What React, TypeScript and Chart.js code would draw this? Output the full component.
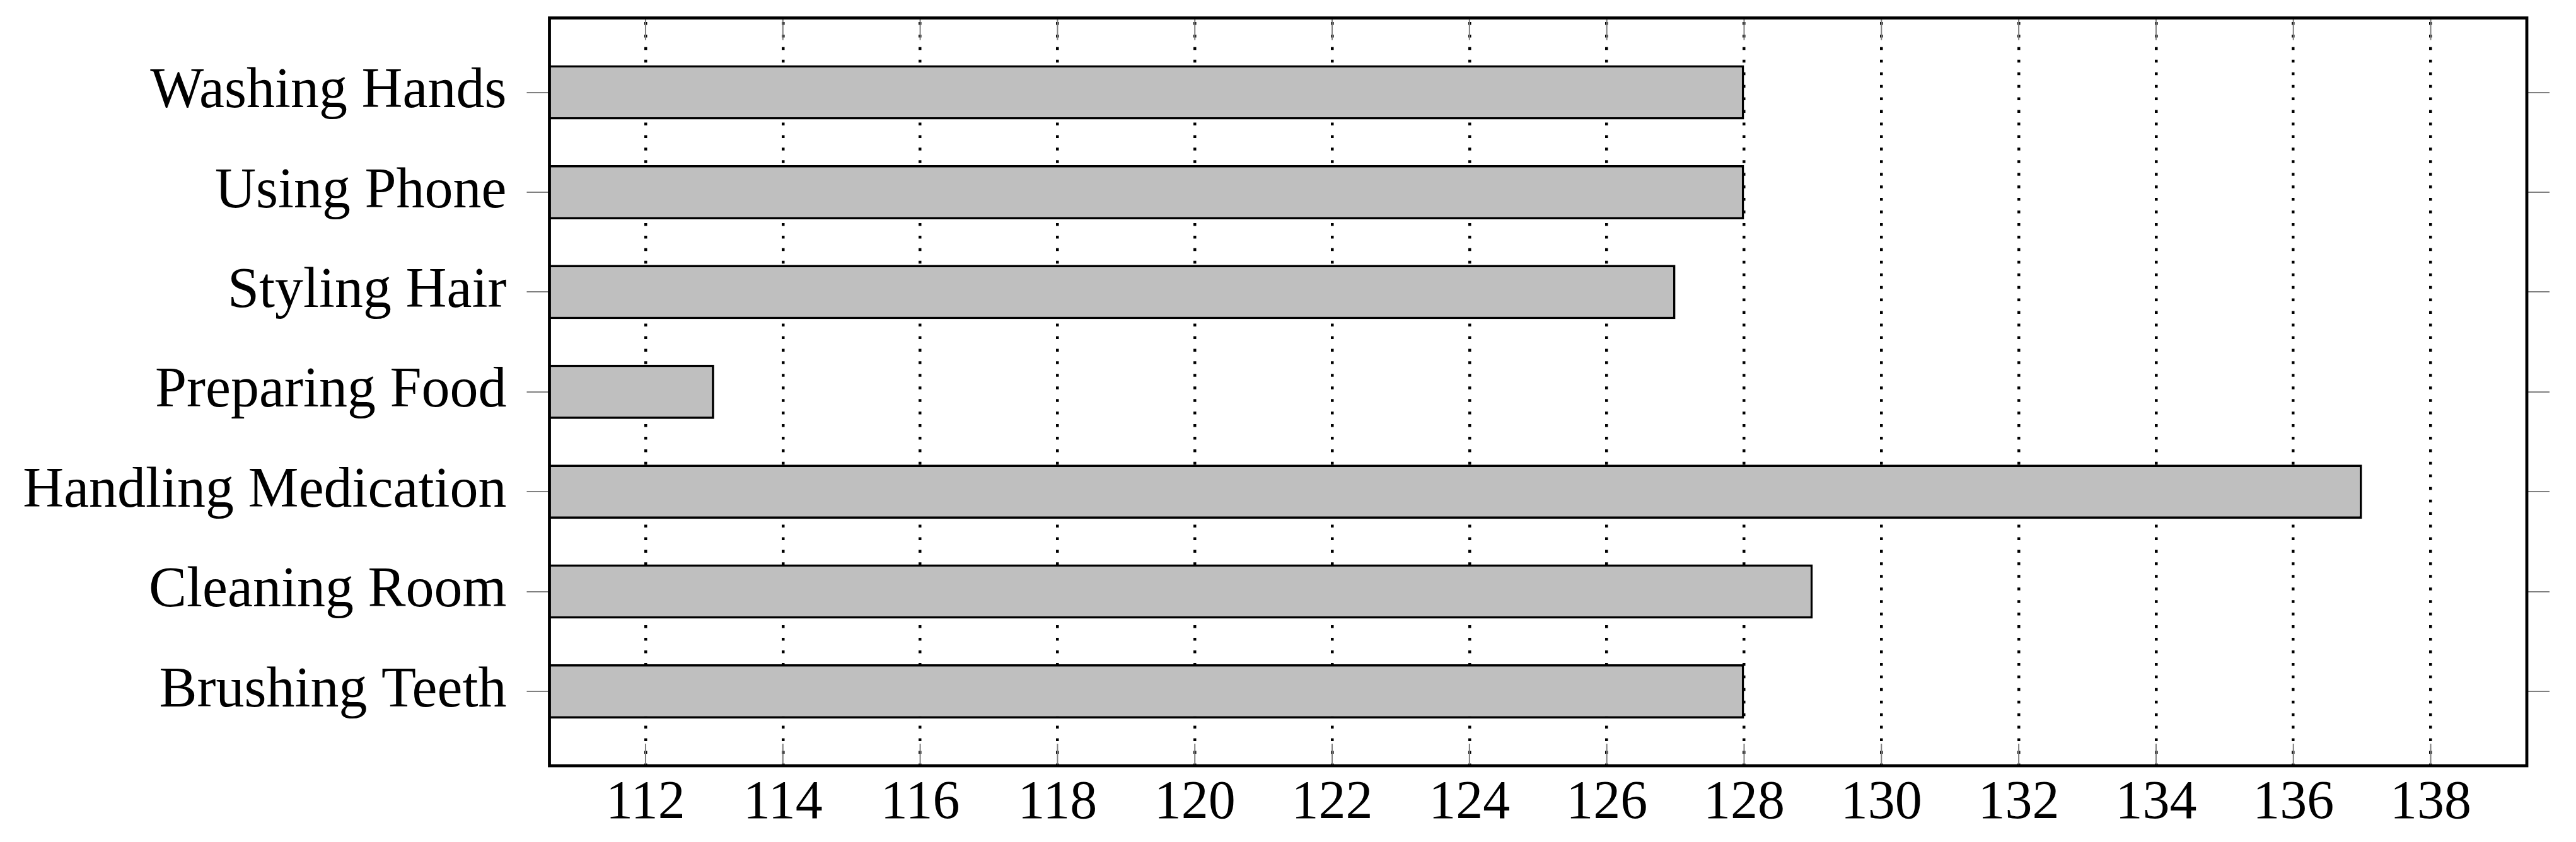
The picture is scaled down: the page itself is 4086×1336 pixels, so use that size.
import React, { useEffect, useRef } from "react";
import { Chart, registerables } from "chart.js";

Chart.register(...registerables);

const CATEGORIES = [
  "Washing Hands",
  "Using Phone",
  "Styling Hair",
  "Preparing Food",
  "Handling Medication",
  "Cleaning Room",
  "Brushing Teeth",
];
const VALUES = [128, 128, 127, 113, 137, 129, 128];

const X_MIN = 110.6;
const X_MAX = 139.4;
const X_STEP = 2;
const Y_PAD = 0.745;

const W = 4086;
const H = 1336;
const FONT = "'Liberation Serif', 'Times New Roman', serif";

function stretchCategory(scale: any) {
  const n = CATEGORIES.length;
  scale._startValue = -Y_PAD;
  scale._valueRange = n - 1 + 2 * Y_PAD;
}

function noPad(scale: any) {
  scale.paddingTop = 0;
  scale.paddingBottom = 0;
  scale.paddingLeft = 0;
  scale.paddingRight = 0;
}

const framePlugin = {
  id: "frameAndTicks",
  afterDraw(chart: any) {
    const { ctx, chartArea } = chart;
    const { left, right, top, bottom } = chartArea;
    const xs = chart.scales.x;
    ctx.save();
    ctx.strokeStyle = "#808080";
    ctx.lineWidth = 2;
    ctx.setLineDash([]);
    const tl = 35;
    xs.ticks.forEach((t: any) => {
      const px = xs.getPixelForValue(t.value);
      ctx.beginPath();
      ctx.moveTo(px, bottom);
      ctx.lineTo(px, bottom - tl);
      ctx.moveTo(px, top);
      ctx.lineTo(px, top + tl);
      ctx.stroke();
    });
    ctx.strokeStyle = "#000";
    ctx.lineWidth = 4.8;
    ctx.strokeRect(left, top, right - left, bottom - top);
    ctx.restore();
  },
};

export default function App() {
  const ref = useRef<HTMLCanvasElement | null>(null);

  useEffect(() => {
    if (!ref.current) return;
    const chart = new Chart(ref.current, {
      type: "bar",
      data: {
        labels: CATEGORIES,
        datasets: [
          {
            data: VALUES,
            base: X_MIN,
            backgroundColor: "#bfbfbf",
            borderColor: "#000000",
            borderWidth: 3.8,
            borderSkipped: "start",
            categoryPercentage: 1,
            barPercentage: 0.543,
            yAxisID: "y",
            xAxisID: "x",
          } as any,
        ],
      },
      options: {
        animation: false,
        responsive: false,
        indexAxis: "y",
        layout: { padding: { top: 28.5, left: 0, right: 0, bottom: 0 } },
        plugins: {
          legend: { display: false },
          tooltip: { enabled: false },
        },
        scales: {
          x: {
            type: "linear",
            position: "bottom",
            min: X_MIN,
            max: X_MAX,
            ticks: {
              stepSize: X_STEP,
              includeBounds: false,
              autoSkip: false,
              maxRotation: 0,
              color: "#000",
              padding: 9,
              font: { family: FONT, size: 86 },
            },
            grid: {
              color: "#000",
              lineWidth: 4.5,
              drawTicks: false,
              drawOnChartArea: true,
            },
            border: { display: false, dash: [4.5, 15.44], dashOffset: 13.5 },
            afterFit: (scale: any) => {
              scale.height = 121;
              noPad(scale);
            },
          },
          y: {
            type: "category",
            position: "left",
            offset: false,
            afterBuildTicks: stretchCategory,
            ticks: {
              color: "#000",
              padding: 32,
              autoSkip: false,
              font: { family: FONT, size: 90 },
            },
            grid: {
              offset: false,
              drawOnChartArea: false,
              drawTicks: true,
              tickLength: 36,
              tickColor: "#808080",
              tickWidth: 2,
              color: "#808080",
              lineWidth: 2,
            },
            border: { display: false },
            afterFit: (scale: any) => {
              scale.width = 871.5;
              noPad(scale);
            },
          },
          y2: {
            type: "category",
            position: "right",
            offset: false,
            afterBuildTicks: stretchCategory,
            ticks: { display: false },
            grid: {
              offset: false,
              drawOnChartArea: false,
              drawTicks: true,
              tickLength: 36,
              tickColor: "#808080",
              tickWidth: 2,
              color: "#808080",
              lineWidth: 2,
            },
            border: { display: false },
            afterFit: (scale: any) => {
              scale.width = W - 4008;
              noPad(scale);
            },
          },
        } as any,
      },
      plugins: [framePlugin],
    });
    return () => chart.destroy();
  }, []);

  return (
    <div style={{ position: "absolute", left: 0, top: 0, width: W, height: H, background: "#fff" }}>
      <canvas ref={ref} width={W} height={H} style={{ display: "block", width: W, height: H }} />
    </div>
  );
}
